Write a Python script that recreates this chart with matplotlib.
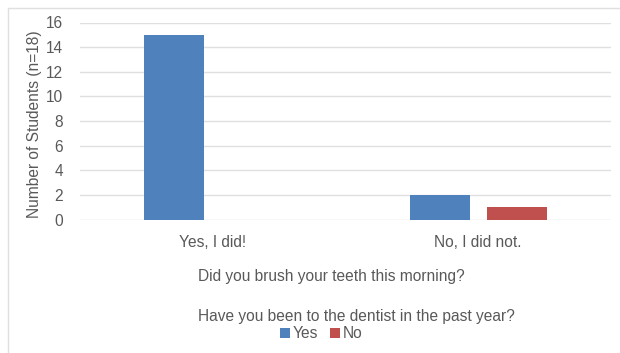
import matplotlib
matplotlib.use('Agg')
import matplotlib.pyplot as plt
import numpy as np
from matplotlib.patches import Rectangle

plt.rcParams['font.family'] = ['Liberation Sans', 'DejaVu Sans']

categories = ['Yes, I did!', 'No, I did not.']
yes_vals = [15, 2]
no_vals = [0, 1]
series_names = ['Yes', 'No']
yticks = [0, 2, 4, 6, 8, 10, 12, 14, 16]

TXT = '#595959'
GRID = '#e0e0e0'
BLUE = '#4f81bd'
RED = '#c0504d'
FS = 11.2

W, H = 620, 353
fig = plt.figure(figsize=(W / 100, H / 100), dpi=100)

# light frame round the chart, cut off on the right and bottom
fig.patches.append(Rectangle((8 / W, -0.1), 1.2, 1 - 8 / H + 0.1, transform=fig.transFigure,
                             fill=False, edgecolor=GRID, linewidth=1.0))

ax = fig.add_axes([80 / W, 1 - 219.5 / H, (611 - 80) / W, (219.5 - 22.5) / H])
x = np.arange(len(categories))
bw = 0.226
off = 0.145
ax.bar(x - off, yes_vals, bw, color=BLUE, label=series_names[0], zorder=3)
ax.bar(x + off, no_vals, bw, color=RED, label=series_names[1], zorder=3)

ax.set_xlim(-0.5, 1.5)
ax.set_ylim(0, 16)
ax.set_yticks(yticks)
ax.set_xticks(x)
ax.set_xticklabels(categories)
ax.tick_params(axis='both', length=0, labelsize=FS, colors=TXT)
ax.tick_params(axis='y', pad=12)
ax.tick_params(axis='x', pad=11)
ax.grid(axis='y', color=GRID, linewidth=1.0, zorder=0)
for s in ax.spines.values():
    s.set_visible(False)

ax.set_ylabel('Number of Students (n=18)', fontsize=FS, color=TXT)
ax.yaxis.set_label_coords((42 - 80) / 531, 0.485)

fig.text(331 / W, 1 - 276 / H, 'Did you brush your teeth this morning?', ha='center', va='center',
         fontsize=FS, color=TXT)
fig.text(356 / W, 1 - 316 / H, 'Have you been to the dentist in the past year?', ha='center', va='center',
         fontsize=FS, color=TXT)
fig.legend(loc='center', bbox_to_anchor=(321 / W, 1 - 334 / H), ncol=2, frameon=False,
           fontsize=FS, labelcolor=TXT, handlelength=0.65, handleheight=0.65,
           handletextpad=0.15, columnspacing=0.8, borderpad=0)

fig.savefig('out.png', dpi=100)
